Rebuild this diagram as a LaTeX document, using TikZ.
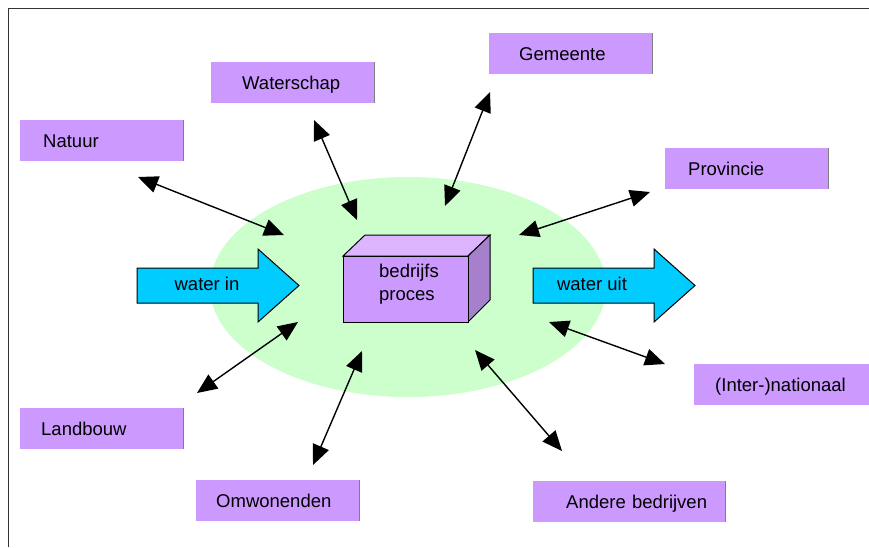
\documentclass[tikz,border=0pt]{standalone}
\usepackage{fontspec}
\setmainfont{Liberation Sans}
\usetikzlibrary{arrows.meta}
\definecolor{boxpurple}{HTML}{CC99FF}
\definecolor{boxtop}{HTML}{DDB5FF}
\definecolor{boxside}{HTML}{A680CC}
\definecolor{fieldgreen}{HTML}{CCFFCC}
\definecolor{flowcyan}{HTML}{00CCFF}
\tikzstyle{link}=[<->, >={Triangle[length=20pt, width=17pt]}, line width=1.4pt]
\tikzstyle{flow}=[draw, fill=flowcyan, line width=1pt, line join=miter]
\tikzstyle{face}=[draw, line width=1pt, line join=miter]
\tikzstyle{boxedge}=[draw=black!50, line width=1.8pt]
\tikzset{party/.style 2 args={fill=boxpurple, anchor=north west, minimum height=41pt,
                              inner sep=0pt, text width=#1, align=left,
                              text height=13.5pt, text depth=0pt,
                              execute at begin node={\hspace*{#2}}}}
\tikzstyle{pixelpicture}=[x=1pt, y=-1pt,
                          every node/.style={font=\fontsize{18.5}{23}\selectfont}]

\begin{document}
\begin{tikzpicture}[pixelpicture]
    \useasboundingbox (0,0) rectangle (869,547);
    \draw[black!80, line width=1.2pt] (8.5,547) -- (8.5,8.5) -- (869,8.5);
    % field round the process
    \fill[fieldgreen] (408,287) ellipse [x radius=198, y radius=110];
    % the process as a box
    \draw[face, fill=boxtop] (343,256) -- (365,235) -- (490,235) -- (468,256) -- cycle;
    \draw[face, fill=boxside] (468,256) -- (490,235) -- (490,300) -- (468,322) -- cycle;
    \draw[face, fill=boxpurple] (343,256) rectangle (468,322);
    \node[anchor=west, inner sep=0, align=left] (proces) at (379,284) {bedrijfs\\proces};
    % water flows
    \draw[flow] (137,268) -- (258,268) -- (258,249) -- (299,285.5) -- (258,322) -- (258,303) -- (137,303) -- cycle;
    \node (waterin) at (207,284) {water in};
    \draw[flow] (533,268) -- (654,268) -- (654,249) -- (695,285.5) -- (654,322) -- (654,303) -- (533,303) -- cycle;
    \node (wateruit) at (592,284) {water uit};
    % parties
    \node[party={163pt}{23pt}] (natuur) at (20,120) {Natuur};
    \node[party={163pt}{31pt}] (waterschap) at (211,62) {Waterschap};
    \node[party={163pt}{30pt}] (gemeente) at (489,33) {Gemeente};
    \node[party={163pt}{23pt}] (provincie) at (665,148) {Provincie};
    \node[party={180pt}{21pt}] (internationaal) at (694,364) {(Inter-)nationaal};
    \node[party={163pt}{21pt}] (landbouw) at (20,408) {Landbouw};
    \node[party={163pt}{20pt}] (omwonenden) at (196,480) {Omwonenden};
    \node[party={192pt}{33pt}] (anderebedrijven) at (533,481) {Andere bedrijven};
    \foreach \n in {natuur,waterschap,gemeente,provincie,landbouw,omwonenden,anderebedrijven}
        \draw[boxedge] (\n.north east) -- (\n.south east);
    % links between process and parties
    \coordinate (natuur-end) at (138,177);
    \coordinate (natuur-field) at (284,235);
    \coordinate (waterschap-end) at (314,120);
    \coordinate (waterschap-field) at (357,220);
    \coordinate (gemeente-end) at (490,92);
    \coordinate (gemeente-field) at (445,206);
    \coordinate (provincie-end) at (650,192);
    \coordinate (provincie-field) at (519,235);
    \coordinate (internationaal-end) at (665,364);
    \coordinate (internationaal-field) at (549,322);
    \coordinate (anderebedrijven-end) at (562,451);
    \coordinate (anderebedrijven-field) at (475,350);
    \coordinate (omwonenden-end) at (313,465);
    \coordinate (omwonenden-field) at (362,351);
    \coordinate (landbouw-end) at (197,393);
    \coordinate (landbouw-field) at (298,322);
    \foreach \n in {natuur,waterschap,gemeente,provincie,internationaal,anderebedrijven,omwonenden,landbouw}
        \draw[link] (\n-end) -- (\n-field);
\end{tikzpicture}
\end{document}
